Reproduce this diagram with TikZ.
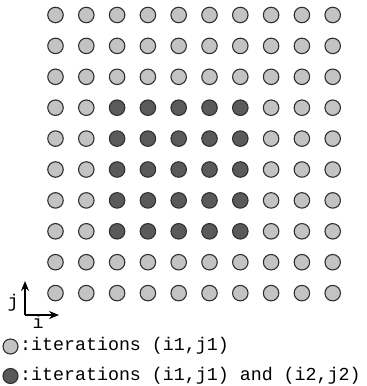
\documentclass[tikz,border=0pt]{standalone}
\usepackage{fontspec}
\setmonofont{Liberation Mono}
\usetikzlibrary{arrows.meta}
\definecolor{lightpt}{HTML}{C3C3C3}
\definecolor{darkpt}{HTML}{5A5A5A}
\definecolor{rimcol}{HTML}{303030}
\tikzset{
  x=1pt, y=-1pt,
  pt/.style={circle, draw=rimcol, line width=1.1pt, minimum size=15.5pt, inner sep=0pt},
  lightdot/.style={pt, fill=lightpt},
  darkdot/.style={pt, fill=darkpt},
  lbl/.style={font=\ttfamily\fontsize{18.3}{20}\selectfont, inner sep=0pt},
  axis/.style={line width=1.3pt, -{Stealth[length=10pt,width=8pt]}}
}
\begin{document}
\begin{tikzpicture}
\useasboundingbox (0,0) rectangle (367,386);
\foreach \c in {0,...,9}{
  \foreach \r in {0,...,9}{
    \pgfmathtruncatemacro{\isdark}{(\c>=2)&&(\c<=6)&&(\r>=3)&&(\r<=7) ? 1 : 0}
    \ifnum\isdark=1
      \node[darkdot] (p\c\r) at ({55.5+30.8*\c},{15+30.9*\r}) {};
    \else
      \node[lightdot] (p\c\r) at ({55.5+30.8*\c},{15+30.9*\r}) {};
    \fi
  }
}
\coordinate (o) at (25,315);
\coordinate (jtip) at (25,281);
\coordinate (itip) at (59,315);
\draw[axis] (o) -- (jtip);
\draw[axis] (o) -- (itip);
\node[lbl] (jl) at (13,303) {j};
\node[lbl] (il) at (38,322) {i};
\node[lightdot, minimum size=15pt] (lg1) at (10.5,346.5) {};
\node[lbl, anchor=west] (t1) at (20,346) {:iterations (i1,j1)};
\node[darkdot, minimum size=15pt] (lg2) at (10.5,376) {};
\node[lbl, anchor=west] (t2) at (20,375.5) {:iterations (i1,j1) and (i2,j2)};
\end{tikzpicture}
\end{document}
